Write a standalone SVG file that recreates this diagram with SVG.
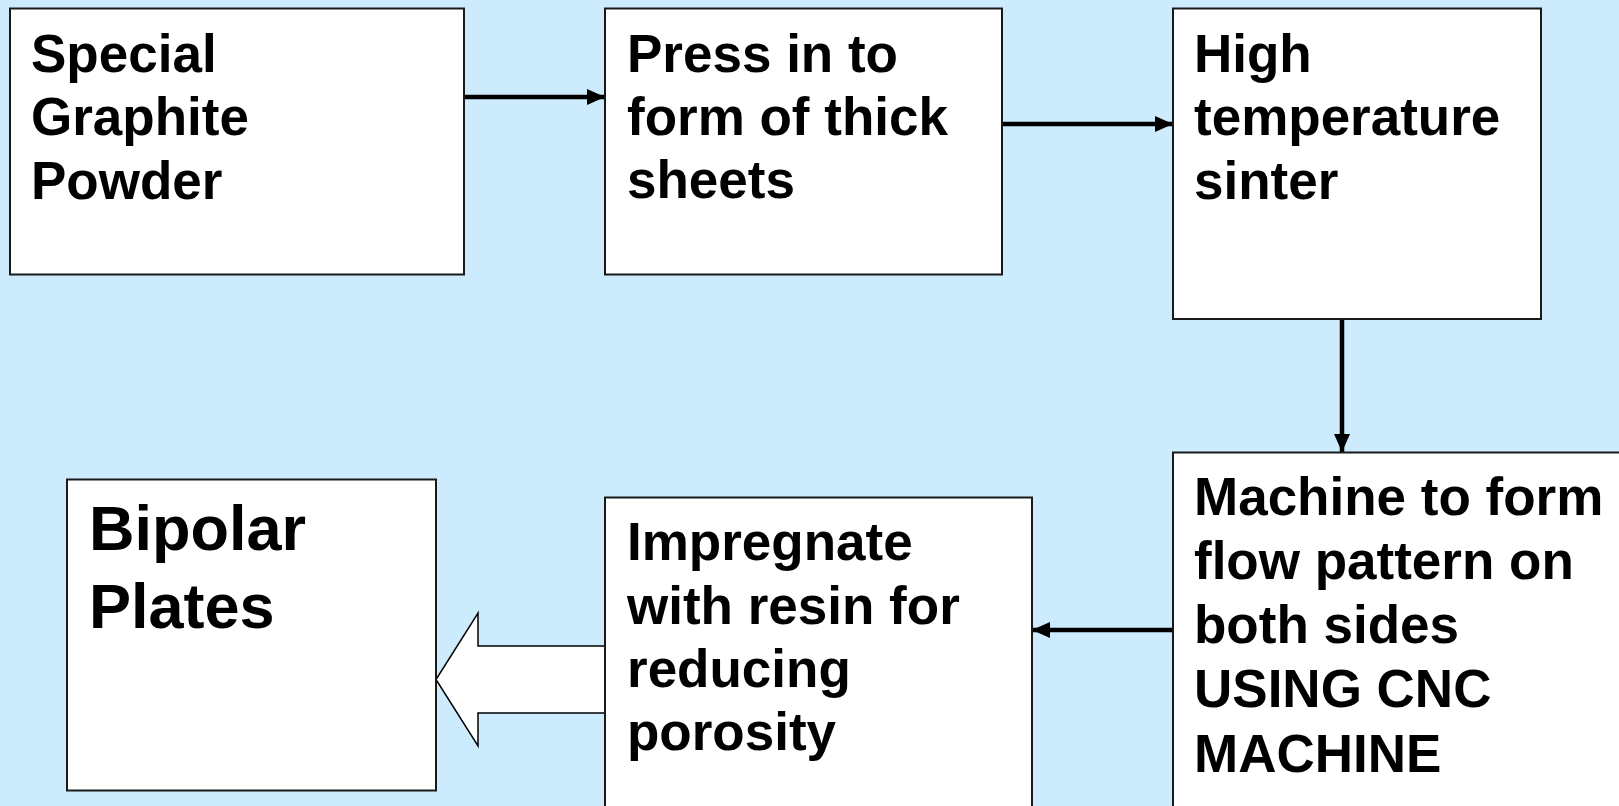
<svg xmlns="http://www.w3.org/2000/svg" width="1619" height="806" viewBox="0 0 1619 806">
<defs>
<style>
.box{fill:#ffffff;stroke:#1a1a1a;stroke-width:2}
.t{font-family:"Liberation Sans",Arial,sans-serif;font-weight:bold;font-size:53px;fill:#000}
.tb{font-family:"Liberation Sans",Arial,sans-serif;font-weight:bold;font-size:63px;fill:#000}
.conn{stroke:#000;stroke-width:4.5;fill:none}
</style>
<marker id="ah" markerUnits="userSpaceOnUse" viewBox="0 0 18 16" refX="18" refY="8" markerWidth="18" markerHeight="16" orient="auto">
<path d="M0,0 L18,8 L0,16 z" fill="#000"/>
</marker>
</defs>
<rect x="0" y="0" width="1619" height="806" fill="#CCEBFD"/>
<g id="connectors">
<line class="conn" x1="464" y1="97" x2="605" y2="97" marker-end="url(#ah)"/>
<line class="conn" x1="1002" y1="124" x2="1173" y2="124" marker-end="url(#ah)"/>
<line class="conn" x1="1342" y1="319" x2="1342" y2="452" marker-end="url(#ah)"/>
<line class="conn" x1="1173" y1="630" x2="1032" y2="630" marker-end="url(#ah)"/>
<polygon points="605,646 478,646 478,613 436,679.5 478,746 478,713 605,713" fill="#ffffff" stroke="#000" stroke-width="1.5"/>
</g>
<g id="n1">
<rect class="box" x="10" y="8.5" width="454" height="266"/>
<text class="t" x="31" y="72">Special</text>
<text class="t" x="31" y="135">Graphite</text>
<text class="t" x="31" y="199">Powder</text>
</g>
<g id="n2">
<rect class="box" x="605" y="8.5" width="397" height="266"/>
<text class="t" x="627" y="72">Press in to</text>
<text class="t" x="627" y="135">form of thick</text>
<text class="t" x="627" y="198">sheets</text>
</g>
<g id="n3">
<rect class="box" x="1173" y="8.5" width="368" height="310.5"/>
<text class="t" x="1194" y="72">High</text>
<text class="t" x="1194" y="135">temperature</text>
<text class="t" x="1194" y="199">sinter</text>
</g>
<g id="n4">
<rect class="box" x="1173" y="452.5" width="470" height="380"/>
<text class="t" x="1194" y="515">Machine to form</text>
<text class="t" x="1194" y="579">flow pattern on</text>
<text class="t" x="1194" y="643">both sides</text>
<text class="t" x="1194" y="707">USING CNC</text>
<text class="t" x="1194" y="772">MACHINE</text>
</g>
<g id="n5">
<rect class="box" x="605" y="497.5" width="427" height="340"/>
<text class="t" x="627" y="560">Impregnate</text>
<text class="t" x="627" y="624">with resin for</text>
<text class="t" x="627" y="687">reducing</text>
<text class="t" x="627" y="750">porosity</text>
</g>
<g id="n6">
<rect class="box" x="67" y="479.5" width="369" height="311"/>
<text class="tb" x="89" y="550">Bipolar</text>
<text class="tb" x="89" y="628">Plates</text>
</g>
</svg>
